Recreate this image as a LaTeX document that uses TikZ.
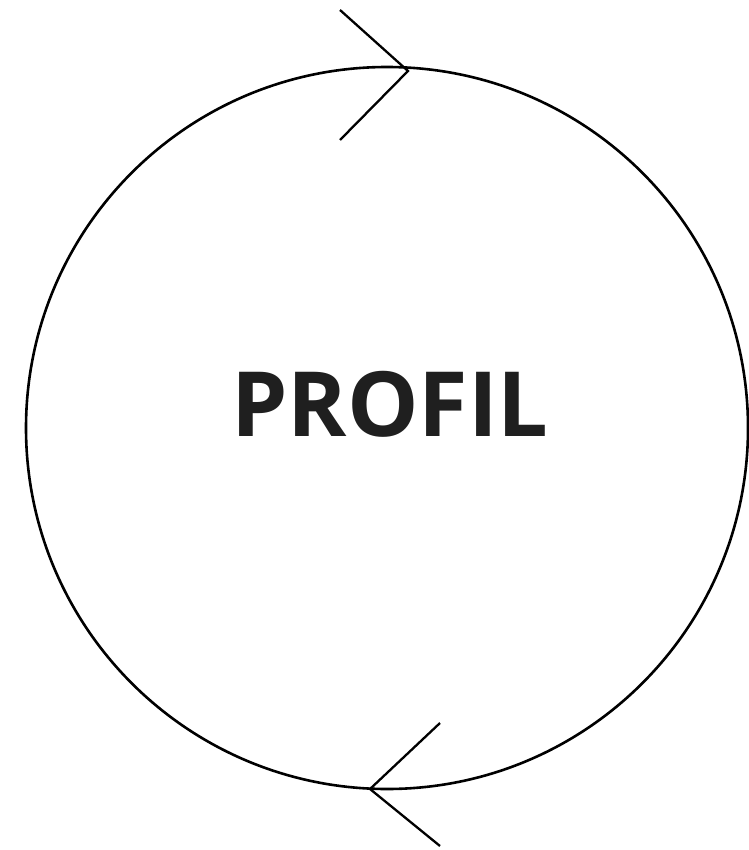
\documentclass[tikz,border=0pt]{standalone}
\usepackage{fontspec}
\setmainfont{Open Sans}
\begin{document}
\begin{tikzpicture}[
    x=1pt, y=-1pt,
    ring/.style={circle, draw, line width=2.6pt, minimum size=722pt, inner sep=0pt},
    title/.style={font=\fontsize{90}{90}\selectfont\bfseries, text=black!88},
    chevron/.style={line width=2.3pt, line join=miter}
  ]
    \useasboundingbox (0,0) rectangle (748,850);
    \node[ring] (cycle) at (387,428) {};
    \node[title] (name) at (390,404) {PROFIL};
    \draw[chevron] (340,10) -- (408,71) -- (340,140);
    \draw[chevron] (440,723) -- (370,789) -- (440,846);
  \end{tikzpicture}
\end{document}
